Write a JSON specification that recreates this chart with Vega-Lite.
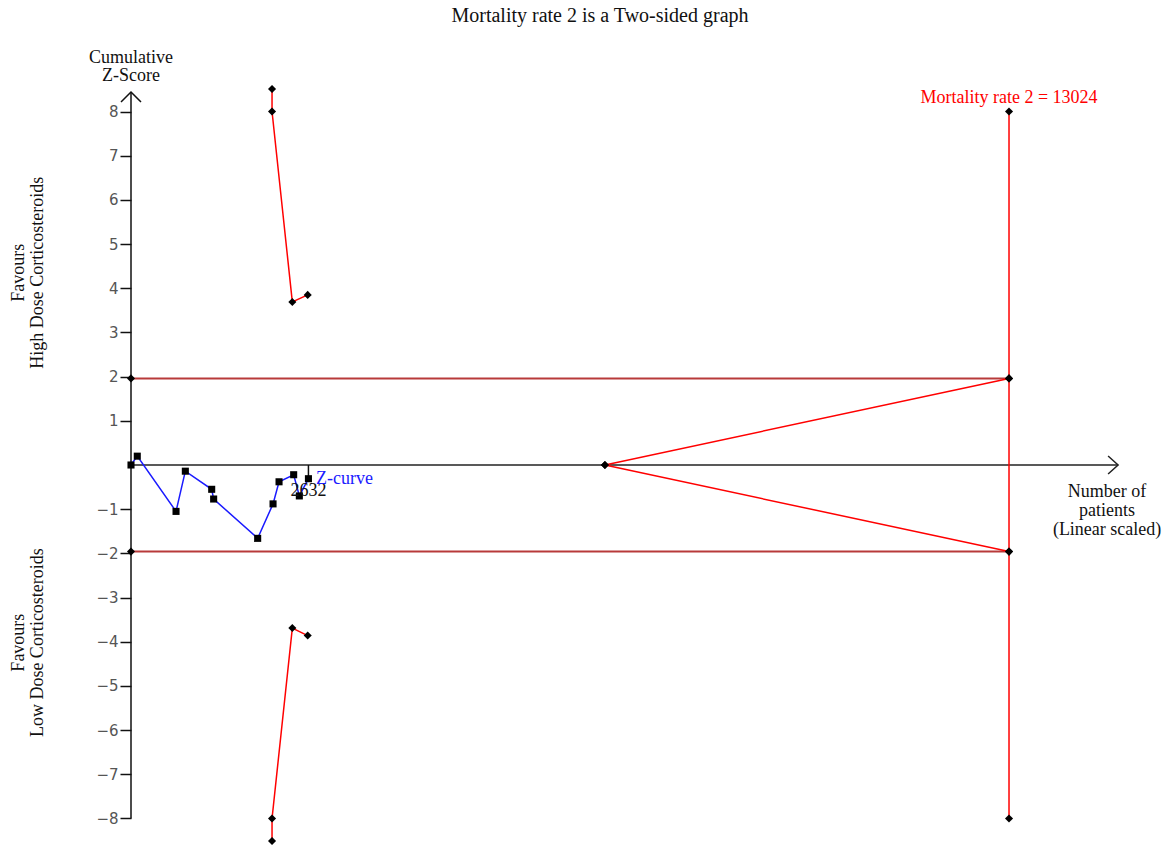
{
  "$schema": "https://vega.github.io/schema/vega-lite/v6.json",
  "autosize": {"type": "none"},
  "padding": {"left": 131, "top": 85, "right": 47, "bottom": 0},
  "width": 991,
  "height": 760,
  "background": "white",
  "config": {"view": {"stroke": null}, "font": "Liberation Serif"},
  "datasets": {
    "zcurve": [
      {"n": 0, "z": 0}, {"n": 93, "z": 0.2}, {"n": 668, "z": -1.05}, {"n": 806, "z": -0.14},
      {"n": 1197, "z": -0.55}, {"n": 1226, "z": -0.77}, {"n": 1879, "z": -1.66}, {"n": 2107, "z": -0.88},
      {"n": 2196, "z": -0.38}, {"n": 2413, "z": -0.22}, {"n": 2497, "z": -0.7}, {"n": 2632, "z": -0.31}
    ],
    "bounds": [
      {"series": "upper", "o": 1, "n": 2092, "z": 8.51},
      {"series": "upper", "o": 2, "n": 2092, "z": 8.0},
      {"series": "upper", "o": 3, "n": 2393, "z": 3.69},
      {"series": "upper", "o": 4, "n": 2621, "z": 3.85},
      {"series": "lower", "o": 1, "n": 2092, "z": -8.51},
      {"series": "lower", "o": 2, "n": 2092, "z": -8.0},
      {"series": "lower", "o": 3, "n": 2393, "z": -3.69},
      {"series": "lower", "o": 4, "n": 2621, "z": -3.86},
      {"series": "futility_up", "o": 1, "n": 7030, "z": 0},
      {"series": "futility_up", "o": 2, "n": 13024, "z": 1.96},
      {"series": "futility_low", "o": 1, "n": 7030, "z": 0},
      {"series": "futility_low", "o": 2, "n": 13024, "z": -1.96},
      {"series": "ris", "o": 1, "n": 13024, "z": 8},
      {"series": "ris", "o": 2, "n": 13024, "z": -8}
    ],
    "conventional": [
      {"series": "up", "o": 1, "n": 0, "z": 1.96},
      {"series": "up", "o": 2, "n": 13024, "z": 1.96},
      {"series": "low", "o": 1, "n": 0, "z": -1.96},
      {"series": "low", "o": 2, "n": 13024, "z": -1.96}
    ]
  },
  "encoding": {
    "x": {"type": "quantitative", "scale": {"domain": [0, 14700], "nice": false, "zero": false}, "axis": null},
    "y": {"type": "quantitative", "scale": {"domain": [-8.6, 8.6], "nice": false, "zero": false},
      "axis": {"values": [-8, -7, -6, -5, -4, -3, -2, -1, 1, 2, 3, 4, 5, 6, 7, 8], "title": null, "grid": false, "domain": false,
        "ticks": true, "tickColor": "#111", "tickSize": 11, "tickWidth": 1.5, "labelFont": "DejaVu Sans", "labelFontSize": 15,
        "labelColor": "#555", "labelPadding": 2}}
  },
  "layer": [
    {
      "data": {"values": [{"n": 0, "z": 0, "n2": 14642}]},
      "mark": {"type": "rule", "color": "#222", "strokeWidth": 1.5},
      "encoding": {"x": {"field": "n"}, "x2": {"field": "n2"}, "y": {"field": "z"}}
    },
    {
      "data": {"values": [{"n": 0, "z": -8, "z2": 8.44}]},
      "mark": {"type": "rule", "color": "#111", "strokeWidth": 1.5},
      "encoding": {"x": {"field": "n"}, "y": {"field": "z"}, "y2": {"field": "z2"}}
    },
    {
      "data": {"values": [{"n": 14642, "z": 0}]},
      "mark": {"type": "point", "shape": "M -1 -0.9 L 0 0 L -1 0.9", "size": 400, "filled": false, "stroke": "#222", "strokeWidth": 1.5, "opacity": 1},
      "encoding": {"x": {"field": "n"}, "y": {"field": "z"}}
    },
    {
      "data": {"values": [{"n": 0, "z": 8.44}]},
      "mark": {"type": "point", "shape": "M -1 1 L 0 0 L 1 1", "size": 400, "filled": false, "stroke": "#111", "strokeWidth": 1.5, "opacity": 1},
      "encoding": {"x": {"field": "n"}, "y": {"field": "z"}}
    },
    {
      "data": {"name": "conventional"},
      "mark": {"type": "line", "color": "#b83a3a", "strokeWidth": 2},
      "encoding": {"x": {"field": "n"}, "y": {"field": "z"}, "detail": {"field": "series"}, "order": {"field": "o"}}
    },
    {
      "data": {"name": "bounds"},
      "mark": {"type": "line", "color": "#ff0000", "strokeWidth": 1.5},
      "encoding": {"x": {"field": "n"}, "y": {"field": "z"}, "detail": {"field": "series"}, "order": {"field": "o"}}
    },
    {
      "data": {"name": "bounds"},
      "mark": {"type": "point", "shape": "diamond", "filled": true, "color": "black", "size": 65, "opacity": 1},
      "encoding": {"x": {"field": "n"}, "y": {"field": "z"}}
    },
    {
      "data": {"name": "conventional"},
      "mark": {"type": "point", "shape": "diamond", "filled": true, "color": "black", "size": 65, "opacity": 1},
      "encoding": {"x": {"field": "n"}, "y": {"field": "z"}}
    },
    {
      "data": {"values": [{"n": 2632, "z": 0, "z2": -0.31}]},
      "mark": {"type": "rule", "color": "#111", "strokeWidth": 1.5},
      "encoding": {"x": {"field": "n"}, "y": {"field": "z"}, "y2": {"field": "z2"}}
    },
    {
      "data": {"name": "zcurve"},
      "mark": {"type": "line", "color": "#1a1aff", "strokeWidth": 1.5},
      "encoding": {"x": {"field": "n"}, "y": {"field": "z"}}
    },
    {
      "data": {"name": "zcurve"},
      "mark": {"type": "point", "shape": "square", "filled": true, "color": "black", "size": 50, "opacity": 1},
      "encoding": {"x": {"field": "n"}, "y": {"field": "z"}}
    },
    {
      "data": {"values": [{"label": "Mortality rate 2 is a Two-sided graph", "n": 6957, "z": 10.17}]},
      "mark": {"type": "text", "font": "Liberation Serif", "fontSize": 20, "color": "#111", "align": "center", "baseline": "middle"},
      "encoding": {"x": {"field": "n"}, "y": {"field": "z"}, "text": {"field": "label"}}
    },
    {
      "data": {"values": [
        {"label": "Cumulative", "n": 0, "z": 9.22},
        {"label": "Z-Score", "n": 0, "z": 8.81},
        {"label": "2632", "n": 2632, "z": -0.58}
      ]},
      "mark": {"type": "text", "font": "Liberation Serif", "fontSize": 18, "color": "#111", "align": "center", "baseline": "middle"},
      "encoding": {"x": {"field": "n"}, "y": {"field": "z"}, "text": {"field": "label"}}
    },
    {
      "data": {"values": [{"label": "Z-curve", "n": 2744, "z": -0.31}]},
      "mark": {"type": "text", "font": "Liberation Serif", "fontSize": 18, "color": "#1a1aff", "align": "left", "baseline": "middle"},
      "encoding": {"x": {"field": "n"}, "y": {"field": "z"}, "text": {"field": "label"}}
    },
    {
      "data": {"values": [{"label": "Mortality rate 2 = 13024", "n": 13024, "z": 8.3}]},
      "mark": {"type": "text", "font": "Liberation Serif", "fontSize": 18, "color": "#ff0000", "align": "center", "baseline": "middle"},
      "encoding": {"x": {"field": "n"}, "y": {"field": "z"}, "text": {"field": "label"}}
    },
    {
      "data": {"values": [
        {"label": "Number of", "n": 14479, "z": -0.6},
        {"label": "patients", "n": 14479, "z": -1.04},
        {"label": "(Linear scaled)", "n": 14479, "z": -1.48}
      ]},
      "mark": {"type": "text", "font": "Liberation Serif", "fontSize": 18, "color": "#111", "align": "center", "baseline": "middle"},
      "encoding": {"x": {"field": "n"}, "y": {"field": "z"}, "text": {"field": "label"}}
    },
    {
      "data": {"values": [
        {"label": "Favours", "n": -1661, "z": 4.35},
        {"label": "High Dose Corticosteroids", "n": -1380, "z": 4.35},
        {"label": "Favours", "n": -1661, "z": -4.02},
        {"label": "Low Dose Corticosteroids", "n": -1380, "z": -4.02}
      ]},
      "mark": {"type": "text", "font": "Liberation Serif", "fontSize": 18, "color": "#111", "align": "center", "baseline": "middle", "angle": 270},
      "encoding": {"x": {"field": "n"}, "y": {"field": "z"}, "text": {"field": "label"}}
    }
  ]
}
